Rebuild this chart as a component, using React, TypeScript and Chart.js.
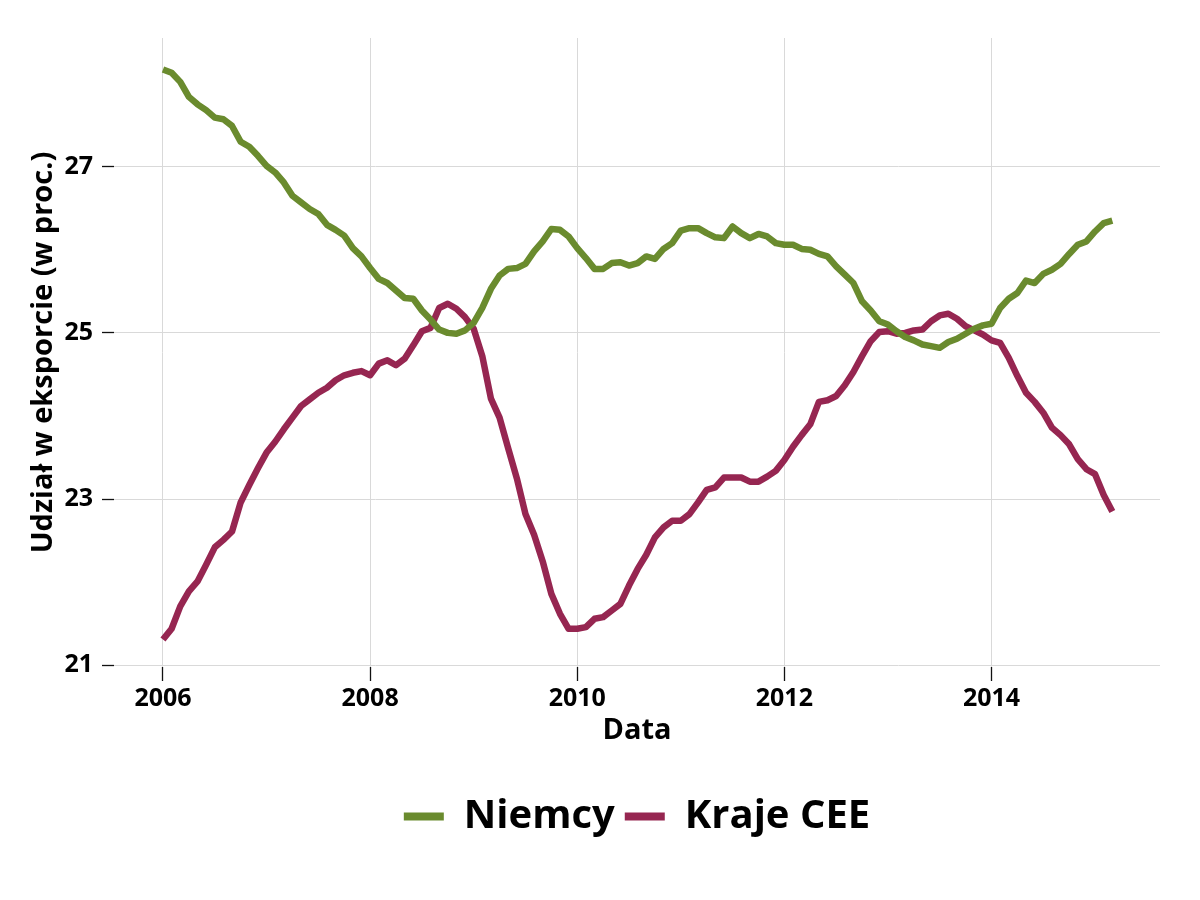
import React, { useEffect, useRef } from "react";
import { Chart, registerables } from "chart.js";

Chart.register(...registerables);

const START_YEAR = 2006;
const X_TICKS = [2006, 2008, 2010, 2012, 2014];
const Y_TICKS = [21, 23, 25, 27];
const SERIES_NAMES = ["Niemcy", "Kraje CEE"];

const niemcy = [
  28.17, 28.13, 28.02, 27.84, 27.75, 27.68, 27.59, 27.57, 27.49, 27.30, 27.24, 27.13,
  27.01, 26.93, 26.81, 26.65, 26.57, 26.49, 26.43, 26.30, 26.24, 26.17, 26.02, 25.92,
  25.78, 25.65, 25.60, 25.51, 25.42, 25.41, 25.27, 25.16, 25.04, 25.00, 24.99, 25.03,
  25.12, 25.30, 25.53, 25.69, 25.77, 25.78, 25.83, 25.98, 26.10, 26.25, 26.24, 26.16,
  26.02, 25.90, 25.77, 25.77, 25.84, 25.85, 25.81, 25.84, 25.92, 25.89, 26.01, 26.08,
  26.23, 26.26, 26.26, 26.20, 26.15, 26.14, 26.28, 26.20, 26.14, 26.19, 26.16, 26.08,
  26.06, 26.06, 26.01, 26.00, 25.95, 25.92, 25.80, 25.70, 25.60, 25.38, 25.27, 25.14,
  25.10, 25.02, 24.95, 24.91, 24.86, 24.84, 24.82, 24.89, 24.93, 24.99, 25.05, 25.09,
  25.11, 25.30, 25.41, 25.48, 25.63, 25.60, 25.71, 25.76, 25.83, 25.95, 26.06, 26.10,
  26.22, 26.32, 26.35,
];

const krajeCEE = [
  21.31, 21.44, 21.71, 21.89, 22.01, 22.21, 22.42, 22.51, 22.61, 22.96, 23.17, 23.37,
  23.56, 23.69, 23.84, 23.98, 24.12, 24.20, 24.28, 24.34, 24.43, 24.49, 24.52, 24.54,
  24.49, 24.63, 24.67, 24.61, 24.69, 24.85, 25.02, 25.06, 25.30, 25.35, 25.29, 25.19,
  25.05, 24.72, 24.21, 23.98, 23.61, 23.25, 22.82, 22.57, 22.25, 21.86, 21.62, 21.44,
  21.44, 21.46, 21.56, 21.58, 21.66, 21.74, 21.96, 22.16, 22.33, 22.54, 22.66, 22.74,
  22.74, 22.82, 22.96, 23.11, 23.14, 23.26, 23.26, 23.26, 23.21, 23.21, 23.27, 23.34,
  23.47, 23.63, 23.77, 23.90, 24.17, 24.19, 24.24, 24.37, 24.53, 24.72, 24.90, 25.01,
  25.02, 24.99, 25.00, 25.03, 25.04, 25.14, 25.21, 25.23, 25.17, 25.08, 25.03, 24.98,
  24.91, 24.88, 24.70, 24.48, 24.28, 24.17, 24.04, 23.86, 23.77, 23.66, 23.48, 23.36,
  23.30, 23.05, 22.85,
];

const GREEN = "#6a8b2e";
const MAROON = "#962651";
const FONT = "'Open Sans', 'DejaVu Sans', sans-serif";

function toPoints(values: number[]) {
  return values.map((v, i) => ({ x: START_YEAR + i / 12, y: v }));
}

export default function App() {
  const ref = useRef<HTMLCanvasElement | null>(null);

  useEffect(() => {
    document.body.style.margin = "0";
    const canvas = ref.current;
    if (!canvas) return;
    const chart = new Chart(canvas, {
      type: "line",
      data: {
        datasets: [
          {
            label: SERIES_NAMES[0],
            data: toPoints(niemcy),
            borderColor: GREEN,
            backgroundColor: GREEN,
            borderWidth: 6.5,
            pointRadius: 0,
            tension: 0,
            borderJoinStyle: "round",
          },
          {
            label: SERIES_NAMES[1],
            data: toPoints(krajeCEE),
            borderColor: MAROON,
            backgroundColor: MAROON,
            borderWidth: 6.5,
            pointRadius: 0,
            tension: 0,
            borderJoinStyle: "round",
          },
        ],
      },
      options: {
        responsive: false,
        animation: false,
        events: [],
        layout: { padding: { top: 38, right: 40, bottom: 53.5, left: 0 } },
        plugins: {
          tooltip: { enabled: false },
          legend: {
            position: "bottom",
            fullSize: false,
            labels: {
              boxWidth: 40,
              boxHeight: 8,
              padding: 10,
              color: "#000",
              font: { family: FONT, size: 40, weight: "bold" },
              generateLabels: (c: any) =>
                Chart.defaults.plugins.legend.labels
                  .generateLabels(c)
                  .map((l: any) => ({ ...l, lineWidth: 0 })),
            },
          },
        },
        scales: {
          x: {
            type: "linear",
            min: 2005.527,
            max: 2015.627,
            afterBuildTicks: (s: any) => {
              s.ticks = X_TICKS.map((v) => ({ value: v }));
            },
            afterFit: (s: any) => {
              s.height = 119.5;
            },
            ticks: {
              color: "#000",
              padding: 3,
              autoSkip: false,
              maxRotation: 0,
              font: { family: FONT, size: 25, weight: "bold" },
              callback: (v: any) => String(v),
            },
            grid: {
              color: "#d9d9d9",
              lineWidth: 1,
              tickColor: "#111",
              tickLength: 14,
              tickWidth: 1.3,
            },
            border: { display: false },
            title: {
              display: true,
              text: "Data",
              color: "#000",
              font: { family: FONT, size: 29, weight: "bold" },
              padding: { top: 4, bottom: 38 },
            },
          },
          y: {
            type: "linear",
            min: 20.98,
            max: 28.548,
            afterBuildTicks: (s: any) => {
              s.ticks = Y_TICKS.map((v) => ({ value: v }));
            },
            afterFit: (s: any) => {
              s.width = 114;
            },
            ticks: {
              color: "#000",
              padding: 9,
              font: { family: FONT, size: 25, weight: "bold" },
              callback: (v: any) => String(v),
            },
            grid: {
              color: "#d9d9d9",
              lineWidth: 1,
              tickColor: "#111",
              tickLength: 12,
              tickWidth: 1.3,
            },
            border: { display: false },
            title: {
              display: true,
              text: "Udział w eksporcie (w proc.)",
              color: "#000",
              font: { family: FONT, size: 29, weight: "bold" },
              padding: { top: 26, bottom: 4 },
            },
          },
        },
      },
    });
    return () => chart.destroy();
  }, []);

  return (
    <div style={{ width: 1200, height: 900, background: "#fff" }}>
      <canvas ref={ref} width={1200} height={900} />
    </div>
  );
}
